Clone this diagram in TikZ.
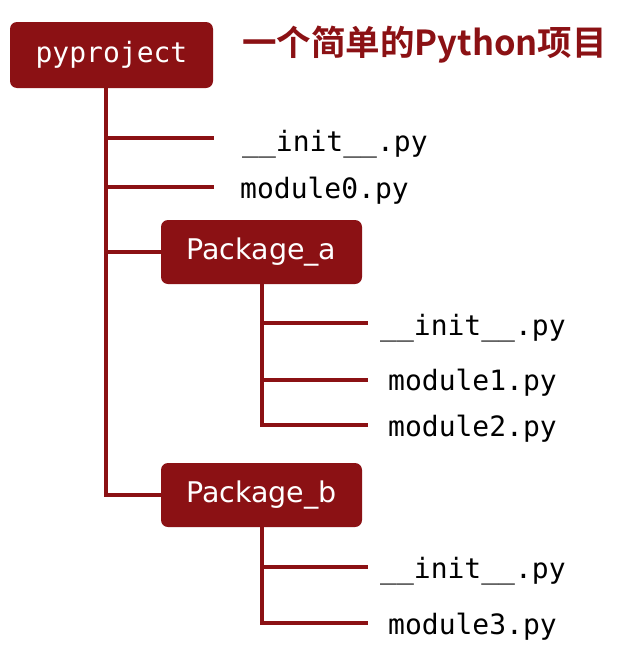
\documentclass[tikz,border=0pt]{standalone}
\usepackage{fontspec}
\setmainfont{DejaVu Sans}
\setmonofont{DejaVu Sans Mono}
\newfontfamily\cjkbold[BoldFont={Noto Sans CJK SC Bold}]{Noto Sans CJK SC}
\definecolor{dred}{HTML}{8B1114}
\tikzset{
  link/.style={draw=dred, line width=3.8pt, line cap=butt},
  pkgbox/.style={fill=dred, rounded corners=7pt, minimum width=201pt, minimum height=64pt, inner sep=0pt,
     text=white, font=\fontsize{28.5}{30}\selectfont, text height=21pt, text depth=6pt},
  rootbox/.style={fill=dred, rounded corners=7pt, minimum width=203pt, minimum height=66pt, inner sep=0pt,
     text=white, font=\ttfamily\fontsize{28}{30}\selectfont, text height=21pt, text depth=6pt},
  file/.style={anchor=base west, inner sep=0pt, font=\ttfamily\fontsize{28}{30}\selectfont, text=black}
}
\begin{document}
\begin{tikzpicture}[x=1pt,y=-1pt]
\useasboundingbox (0,0) rectangle (624,672);
% boxes
\node[rootbox] (root) at (111.5,55) {pyproject};
\node[pkgbox] (pa) at (261.5,252) {Package\_a};
\node[pkgbox] (pb) at (261.5,495) {Package\_b};
\node[anchor=west, inner sep=0pt, text=dred, font=\cjkbold\bfseries\fontsize{34.5}{36}\selectfont] (title) at (242,45) {一个简单的Python项目};
% files
\node[file] (f1) at (242,151) {\_\_init\_\_.py};
\node[file] (f2) at (240,198) {module0.py};
\node[file] (f3) at (380,335) {\_\_init\_\_.py};
\node[file] (f4) at (388,390) {module1.py};
\node[file] (f5) at (388,436) {module2.py};
\node[file] (f6) at (380,578) {\_\_init\_\_.py};
\node[file] (f7) at (388,634) {module3.py};
% trunk coordinates
\coordinate (t0) at (106,87);
\coordinate (ta) at (pa.south -| 262,0);
\coordinate (tb) at (pb.south -| 262,0);
% branch ends
\coordinate (e1) at (214,138);
\coordinate (e2) at (214,187);
\coordinate (e3) at (368,323);
\coordinate (e4) at (368,380);
\coordinate (e5) at (368,425);
\coordinate (e6) at (368,567);
\coordinate (e7) at (368,623);
% connectors
\draw[link] (t0) |- (pb.west);
\draw[link] (t0 |- e1) -- (e1);
\draw[link] (t0 |- e2) -- (e2);
\draw[link] (t0 |- pa.west) -- (pa.west);
\draw[link] (ta) |- (e5);
\draw[link] (ta |- e3) -- (e3);
\draw[link] (ta |- e4) -- (e4);
\draw[link] (tb) |- (e7);
\draw[link] (tb |- e6) -- (e6);
\end{tikzpicture}
\end{document}
